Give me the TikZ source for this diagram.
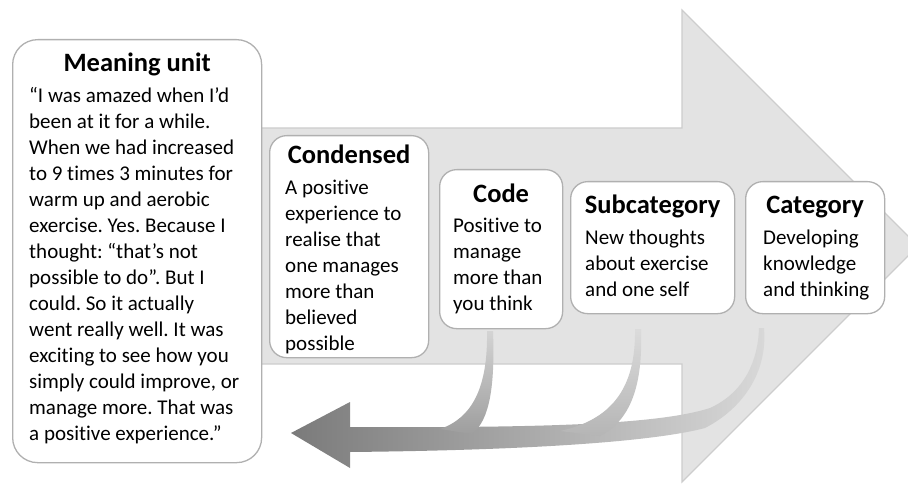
\documentclass[tikz,border=0pt]{standalone}
\usepackage{fontspec}
\setmainfont{Carlito}[Ligatures=NoCommon]
\usetikzlibrary{calc}
\frenchspacing

\definecolor{arrowfill}{HTML}{E3E3E3}
\definecolor{arrowline}{HTML}{CDCDCD}
\definecolor{cardline}{HTML}{B0B0B0}

\tikzset{
  card/.style={draw=cardline,fill=white,line width=1.3pt,rounded corners=17pt,inner sep=0,anchor=north west},
  cardtitle/.style={font=\fontsize{26.5}{30}\selectfont\bfseries,anchor=base,inner sep=0},
  cardtext/.style={font=\fontsize{21}{26}\selectfont,align=left,anchor=base west,inner sep=0}
}

\begin{document}
\begin{tikzpicture}[x=1pt,y=-1pt]
  \useasboundingbox (0,0) rectangle (908,484);

  % big arrow behind everything
  \filldraw[fill=arrowfill,draw=arrowline,line width=1.2pt]
    (240,128) -- (682,128) -- (682,10) -- (918,246) -- (682,482) -- (682,364) -- (240,364) -- cycle;

  % returning arrow
  \shade[left color=black!52,right color=black!15]
    (291,433) -- (350,402) -- (350,427)
    .. controls (550,428) and (660,424) .. (710,408)
    .. controls (745,392) and (758,360) .. (759,328)
    -- (764,328)
    .. controls (768,375) and (740,410) .. (705,428)
    .. controls (660,440) and (550,450) .. (350,452)
    -- (350,468) -- cycle;
  \shade[top color=black!17,bottom color=black!38]
    (487,331) .. controls (488,388) and (472,418) .. (440,429)
    -- (472,434) .. controls (490,420) and (495,385) .. (493,331) -- cycle;
  \shade[top color=black!14,bottom color=black!29]
    (635,329) .. controls (636,390) and (610,420) .. (560,431)
    -- (600,436) .. controls (631,420) and (643,385) .. (641,329) -- cycle;

  % cards
  \node[card,rounded corners=25pt,minimum width=249pt,minimum height=423pt] (meaning) at (12,39) {};
  \node[card,minimum width=159pt,minimum height=222pt] (condensed) at (269,135) {};
  \node[card,minimum width=123pt,minimum height=159pt] (code) at (439,169) {};
  \node[card,minimum width=164pt,minimum height=132pt] (subcat) at (570,181) {};
  \node[card,minimum width=139pt,minimum height=132pt] (cat) at (745,181) {};

  \node[cardtitle] (meaningtitle) at ($(meaning.north)+(0,33)$) {Meaning unit};
  \node[cardtitle] (condensedtitle) at ($(condensed.north)+(0,29)$) {Condensed};
  \node[cardtitle] (codetitle) at ($(code.north)+(0,33)$) {Code};
  \node[cardtitle] (subcattitle) at ($(subcat.north)+(0,33)$) {Subcategory};
  \node[cardtitle] (cattitle) at ($(cat.north)+(0,33)$) {Category};

  % text nodes sit on the baseline of their last line
  \node[cardtext] (meaningtext) at ($(meaning.north west)+(17,401)$) {“I was amazed when I’d\\been at it for a while.\\When we had increased\\to 9 times 3 minutes for\\warm up and aerobic\\exercise. Yes. Because I\\thought: “that’s not\\possible to do”. But I\\could. So it actually\\went really well. It was\\exciting to see how you\\simply could improve, or\\manage more. That was\\a positive experience.”};
  \node[cardtext] (condensedtext) at ($(condensed.north west)+(16,215)$) {A positive\\experience to\\realise that\\one manages\\more than\\believed\\possible};
  \node[cardtext] (codetext) at ($(code.north west)+(14,141)$) {Positive to\\manage\\more than\\you think};
  \node[cardtext] (subcattext) at ($(subcat.north west)+(15,115)$) {New thoughts\\about exercise\\and one self};
  \node[cardtext] (cattext) at ($(cat.north west)+(18,115)$) {Developing\\knowledge\\and thinking};
\end{tikzpicture}
\end{document}
